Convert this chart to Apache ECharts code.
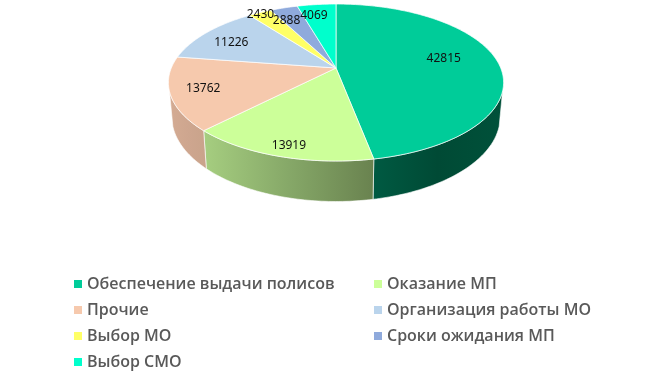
<!DOCTYPE html>
<html>
<head>
<meta charset="utf-8">
<style>
  html, body { margin: 0; padding: 0; background: #fff; }
  #chart { width: 671px; height: 376px; }
</style>
</head>
<body>
<div id="chart"></div>
<script src="https://cdn.jsdelivr.net/npm/echarts@6/dist/echarts.min.js"></script>
<script>
const categories = ['Обеспечение выдачи полисов', 'Оказание МП', 'Прочие', 'Организация работы МО', 'Выбор МО', 'Сроки ожидания МП', 'Выбор СМО'];
const values = [42815, 13919, 13762, 11226, 2430, 2888, 4069];
const colors = ['#00CC99', '#CCFF99', '#F6C9AD', '#BAD4EC', '#FFFF66', '#8FAADC', '#00FFCC'];
// side wall gradient, left to right (only the front slices show a wall)
const wallColors = [['#005a42', '#004a35', '#00513a'], ['#a6ce80', '#86a868', '#69824f'], ['#d4ab93', '#cea68f', '#c9a38b']];
const labelRadius = [0.68, 0.89, 0.81, 0.77, 0.96, 0.78, 0.80];
const labelTurn = [-5, -1, 0, -2.5, -1, -4, -3];
const leftLegend = [categories[0], categories[2], categories[4], categories[6]];
const rightLegend = [categories[1], categories[3], categories[5]];

// perspective projection of the pie disc
const cx = 336, cy = 68, rx = 164.7, ry = 75.8, tilt = 0.185, depth = 33, shrink = 0.98;
const total = values.reduce((a, b) => a + b, 0);
const wallFrom = 107, wallTo = 253;

function project(deg, r) {
  const t = deg * Math.PI / 180;
  const u = Math.sin(t) * r, v = -Math.cos(t) * r;
  const w = 1 - tilt * v;
  return { x: cx + rx * u / w, y: cy + ry * v / w, w: w };
}

function arc(from, to) {
  const pts = [];
  const n = Math.max(2, Math.ceil(to - from));
  for (let i = 0; i <= n; i++) pts.push(project(from + (to - from) * i / n, 1));
  return pts;
}

let used = 0;
const series = categories.map((name, i) => {
  const start = used / total * 360;
  used += values[i];
  const end = used / total * 360;
  return {
    name: name,
    type: 'custom',
    coordinateSystem: 'none',
    animation: false,
    silent: true,
    itemStyle: { color: colors[i] },
    data: [[values[i]]],
    renderItem: function (params, api) {
      const children = [];
      const a = Math.max(start, wallFrom), b = Math.min(end, wallTo);
      if (a < b && wallColors[i]) {
        const rim = arc(a, b);
        const top = rim.map(p => [p.x, p.y]);
        // the bottom rim pulls in a little towards the middle
        const bottom = rim.map(p => [cx + (p.x - cx) * shrink, p.y + depth / p.w]).reverse();
        const stops = wallColors[i].map((c, j) => ({ offset: j / 2, color: c }));
        children.push({
          type: 'polygon',
          shape: { points: top.concat(bottom) },
          style: { fill: { type: 'linear', x: 0, y: 0, x2: 1, y2: 0, colorStops: stops }, stroke: '#fff', lineWidth: 0.6 }
        });
      }
      const pts = arc(start, end).map(p => [p.x, p.y]);
      children.push({
        type: 'polygon',
        shape: { points: [[cx, cy]].concat(pts) },
        style: { fill: api.visual('color'), stroke: '#fff', lineWidth: 0.7 }
      });
      const pos = project((start + end) / 2 + labelTurn[i], labelRadius[i]);
      children.push({
        type: 'text',
        z2: 10,
        style: {
          text: String(api.value(0)),
          x: pos.x, y: pos.y,
          align: 'center', verticalAlign: 'middle',
          font: '12px "Noto Sans"', fill: '#111'
        }
      });
      return { type: 'group', children: children };
    }
  };
});

function legendBlock(names, left) {
  return {
    left: left, top: 273,
    height: 103,
    padding: 0,
    orient: 'vertical',
    itemWidth: 8, itemHeight: 8, itemGap: 4,
    selectedMode: false,
    data: names.map(n => ({ name: n, icon: 'rect' })),
    textStyle: { fontFamily: 'Open Sans', fontWeight: 600, fontSize: 16, lineHeight: 22, color: '#595959' }
  };
}

const chart = echarts.init(document.getElementById('chart'));
chart.setOption({
  backgroundColor: '#fff',
  animation: false,
  legend: [legendBlock(leftLegend, 74), legendBlock(rightLegend, 374)],
  series: series
});
</script>
</body>
</html>
